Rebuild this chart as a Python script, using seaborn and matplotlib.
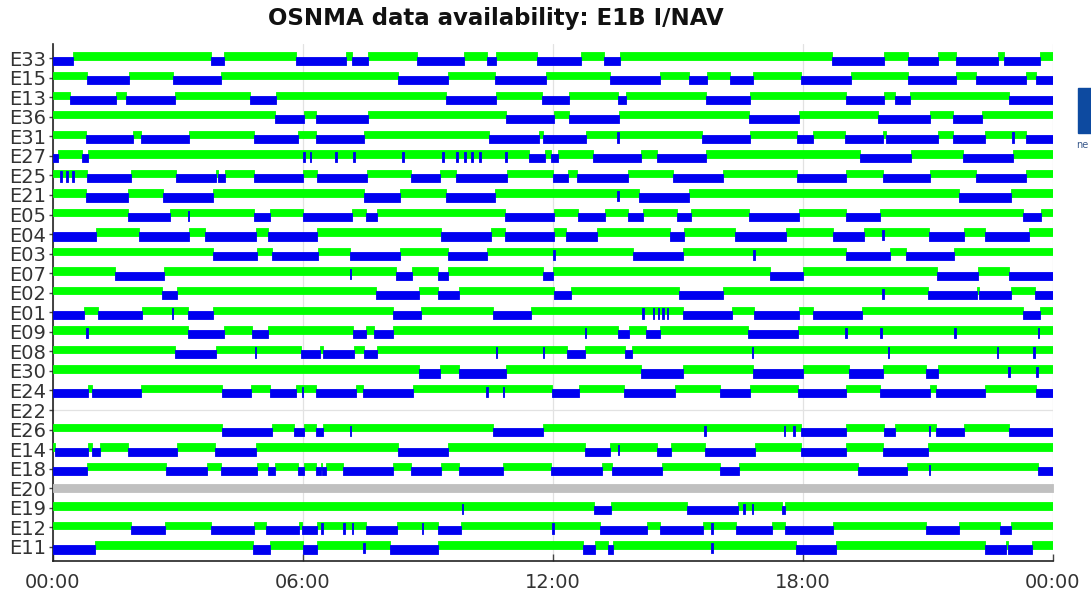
import numpy as np
import pandas as pd
import matplotlib
matplotlib.use('Agg')
import matplotlib.pyplot as plt
import seaborn as sns
from matplotlib.patches import Rectangle

# ── Данные: интервалы "blue" (часы), остальное время строки — "green" ─────────
SATS = ['E33', 'E15', 'E13', 'E36', 'E31', 'E27', 'E25', 'E21', 'E05', 'E04',
        'E03', 'E07', 'E02', 'E01', 'E09', 'E08', 'E30', 'E24', 'E22', 'E26',
        'E14', 'E18', 'E20', 'E19', 'E12', 'E11']
NO_DATA = ['E22']
UNAVAILABLE = ['E20']

E33_BLUE = [(0, 0.47), (3.79, 4.10), (5.82, 7.03), (7.17, 7.55), (8.74, 9.86), (10.42, 10.64),
            (11.61, 12.66), (13.23, 13.62), (18.70, 19.94), (20.51, 21.24), (21.68, 22.67), (22.83, 23.68)]
E15_BLUE = [(0.82, 1.83), (2.89, 4.04), (8.28, 9.47), (10.61, 11.82), (13.37, 14.57), (15.26, 15.70),
            (16.24, 16.79), (17.95, 19.16), (20.51, 21.68), (22.14, 23.34), (23.59, 24)]
E13_BLUE = [(0.40, 1.52), (1.75, 2.92), (4.72, 5.36), (9.44, 10.64), (11.74, 12.39), (13.57, 13.76),
            (15.67, 16.74), (19.04, 19.95), (20.20, 20.57), (22.95, 24)]
E36_BLUE = [(5.33, 6.02), (6.30, 7.55), (10.87, 12.03), (12.39, 13.59), (16.71, 17.90), (19.81, 21.06),
            (21.60, 22.30)]
E31_BLUE = [(0.78, 1.91), (2.10, 3.26), (4.83, 5.87), (6.30, 7.47), (10.47, 11.66), (11.75, 12.80),
            (15.57, 16.74), (17.86, 18.25), (19.01, 19.91), (20.00, 21.24), (21.60, 22.38), (23.34, 24)]
E31_SPIKES = [13.56, 23.04]
E27_BLUE = [(0, 0.12), (0.70, 0.85), (11.43, 11.80), (11.96, 12.13), (12.97, 14.10), (14.49, 15.68),
            (19.38, 20.59), (21.83, 23.04)]
E27_SPIKES = [6.02, 6.18, 6.79, 7.22, 8.40, 9.36, 9.70, 9.89, 10.06, 10.25, 10.87]
E25_BLUE = [(0.82, 1.86), (2.95, 3.91), (3.97, 4.12), (4.83, 6.00), (6.34, 7.53), (8.59, 9.29),
            (9.67, 10.89), (12.00, 12.36), (12.58, 13.79), (14.88, 16.07), (17.86, 19.04), (19.92, 21.06),
            (22.14, 23.34)]
E25_SPIKES = [0.19, 0.34, 0.48]
E21_BLUE = [(0.78, 1.80), (2.64, 3.85), (7.47, 8.32), (9.44, 10.61), (14.07, 15.26), (21.75, 23.00)]
E21_SPIKES = [13.56]
E05_BLUE = [(1.80, 2.80), (4.83, 5.20), (5.99, 7.17), (7.50, 7.78), (10.84, 12.02), (12.59, 13.25),
            (13.79, 14.15), (14.98, 15.30), (16.71, 17.90), (19.04, 19.84), (23.29, 23.70)]
E05_SPIKES = [3.25]
E04_BLUE = [(0, 1.02), (2.07, 3.26), (3.65, 4.86), (5.17, 6.34), (9.32, 10.50), (10.84, 12.03),
            (12.31, 13.06), (14.80, 15.14), (16.38, 17.59), (18.73, 19.46), (21.02, 21.86), (22.36, 23.42)]
E04_SPIKES = [19.92]
E03_BLUE = [(3.85, 4.89), (5.25, 6.37), (7.14, 8.32), (9.47, 10.42), (13.91, 15.11), (19.04, 20.08),
            (20.47, 21.63)]
E03_SPIKES = [12.03, 16.83]
E07_BLUE = [(1.49, 2.66), (8.23, 8.62), (9.24, 9.49), (11.77, 12.00), (17.20, 18.01), (21.21, 22.20),
            (22.95, 24)]
E07_SPIKES = [7.14]
E02_BLUE = [(2.61, 2.97), (7.76, 8.79), (9.25, 9.75), (12.03, 12.42), (15.03, 16.07), (21.01, 22.17),
            (22.23, 22.98), (23.57, 24)]
E02_SPIKES = [19.92]
E01_BLUE = [(0, 0.75), (1.09, 2.14), (3.23, 3.85), (8.15, 8.82), (10.57, 11.46), (15.11, 16.30),
            (16.82, 17.90), (18.25, 19.41), (23.29, 23.68)]
E01_SPIKES = [2.87, 14.16, 14.41, 14.53, 14.64, 14.75]
E09_BLUE = [(3.23, 4.11), (4.78, 5.17), (7.19, 7.50), (7.70, 8.17), (13.57, 13.82), (14.22, 14.57),
            (16.69, 17.87)]
E09_SPIKES = [0.82, 12.78, 19.04, 19.88, 21.65, 23.65]
E08_BLUE = [(2.92, 3.90), (5.95, 6.41), (6.49, 7.22), (7.47, 7.78), (12.34, 12.78), (13.73, 13.90)]
E08_SPIKES = [4.86, 10.64, 11.77, 16.79, 20.05, 22.67, 23.54]
E30_BLUE = [(8.79, 9.29), (9.75, 10.87), (14.10, 15.11), (16.79, 18.01), (19.10, 19.92), (20.96, 21.24)]
E30_SPIKES = [22.95, 23.62]
E24_BLUE = [(0, 0.85), (0.93, 2.11), (4.05, 4.75), (5.20, 5.84), (6.30, 7.27), (7.45, 8.63),
            (11.97, 12.62), (13.71, 14.92), (16.01, 16.74), (17.87, 19.04), (19.84, 21.06), (21.20, 22.36),
            (23.60, 24)]
E24_SPIKES = [5.99, 10.42, 10.81]
E26_BLUE = [(4.05, 5.25), (5.79, 6.02), (6.30, 6.49), (10.57, 11.77), (17.95, 19.04), (19.95, 20.20),
            (21.20, 21.86), (22.95, 24)]
E26_SPIKES = [7.14, 15.65, 17.56, 17.78, 21.04]
E14_BLUE = [(0.05, 0.85), (0.93, 1.13), (1.79, 2.97), (3.88, 4.86), (8.28, 9.47), (12.78, 13.37),
            (14.49, 14.83), (15.65, 16.86), (17.95, 19.04), (19.92, 21.01)]
E14_SPIKES = [13.57]
E18_BLUE = [(0, 0.82), (2.72, 3.70), (4.04, 4.89), (5.17, 5.33), (5.87, 6.02), (6.30, 6.42), (6.45, 6.54),
            (6.96, 8.15), (8.59, 9.32), (9.75, 10.79), (11.96, 13.17), (13.42, 14.61), (16.01, 16.46),
            (19.33, 20.50), (23.65, 24)]
E18_SPIKES = [21.04]
E19_BLUE = [(12.98, 13.40), (15.22, 16.43), (17.50, 17.58)]
E19_SPIKES = [9.83, 16.58, 16.79]
E12_BLUE = [(1.88, 2.69), (3.80, 4.83), (5.12, 5.90), (5.98, 6.34), (7.50, 8.25), (9.24, 9.80),
            (13.12, 14.25), (14.57, 15.61), (16.40, 17.25), (17.56, 18.73), (20.96, 21.75), (22.72, 22.98)]
E12_SPIKES = [6.46, 6.99, 7.19, 8.87, 12.00, 15.81]
E11_BLUE = [(0, 1.01), (4.81, 5.20), (5.99, 6.34), (8.09, 9.25), (12.73, 13.01), (13.33, 13.45),
            (17.83, 18.79), (22.36, 22.88), (22.93, 23.49)]
E11_SPIKES = [7.47, 15.81]

XTICKS = [0, 6, 12, 18, 24]
XLABELS = ['00:00', '06:00', '12:00', '18:00', '00:00']
TITLE = 'OSNMA data availability: E1B I/NAV'

BLUE = {
    'E33': E33_BLUE, 'E15': E15_BLUE, 'E13': E13_BLUE, 'E36': E36_BLUE, 'E31': E31_BLUE,
    'E27': E27_BLUE, 'E25': E25_BLUE, 'E21': E21_BLUE, 'E05': E05_BLUE, 'E04': E04_BLUE,
    'E03': E03_BLUE, 'E07': E07_BLUE, 'E02': E02_BLUE, 'E01': E01_BLUE, 'E09': E09_BLUE,
    'E08': E08_BLUE, 'E30': E30_BLUE, 'E24': E24_BLUE, 'E26': E26_BLUE, 'E14': E14_BLUE,
    'E18': E18_BLUE, 'E19': E19_BLUE, 'E12': E12_BLUE, 'E11': E11_BLUE,
}
SPIKES = {
    'E31': E31_SPIKES, 'E27': E27_SPIKES, 'E25': E25_SPIKES, 'E21': E21_SPIKES, 'E05': E05_SPIKES,
    'E04': E04_SPIKES, 'E03': E03_SPIKES, 'E07': E07_SPIKES, 'E02': E02_SPIKES, 'E01': E01_SPIKES,
    'E09': E09_SPIKES, 'E08': E08_SPIKES, 'E30': E30_SPIKES, 'E24': E24_SPIKES, 'E26': E26_SPIKES,
    'E14': E14_SPIKES, 'E18': E18_SPIKES, 'E19': E19_SPIKES, 'E12': E12_SPIKES, 'E11': E11_SPIKES,
}

# ── Стиль ─────────────────────────────────────────────────────────────────────
C_GREEN = '#00ff00'
C_BLUE  = '#0000f0'
C_GRAY  = '#c0c0c0'

sns.set_theme(style='whitegrid')
plt.rcParams['font.family'] = ['DejaVu Sans']


def complement(intervals, t0=0.0, t1=24.0):
    out, cur = [], t0
    for a, b in sorted(intervals):
        if a > cur:
            out.append((cur, a))
        cur = max(cur, b)
    if cur < t1:
        out.append((cur, t1))
    return out


def bars(ax, spans, y, h, color, z):
    ax.broken_barh(spans, (y, h), facecolors=color, edgecolors=color,
                   linewidth=0.6, zorder=z)


W, H = 1091, 596
fig = plt.figure(figsize=(W / 100, H / 100), dpi=100)
ax = fig.add_axes([53 / W, 1 - 561 / H, 1000 / W, 517 / H])

for i, sat in enumerate(SATS):
    if sat in NO_DATA:
        continue
    if sat in UNAVAILABLE:
        bars(ax, [(0, 24)], i - 0.2, 0.4, C_GRAY, 3)
        continue
    blue = BLUE.get(sat, [])
    green = complement(blue)
    bars(ax, [(a, b - a) for a, b in green], i - 0.29, 0.38, C_GREEN, 3)
    bars(ax, [(a, b - a) for a, b in blue], i - 0.08, 0.42, C_BLUE, 4)
    sp = SPIKES.get(sat, [])
    if sp:
        bars(ax, [(s - 0.02, 0.04) for s in sp], i - 0.2, 0.52, C_BLUE, 4)

ax.set_xlim(0, 24)
ax.set_ylim(len(SATS) - 0.28, -0.72)
ax.set_xticks(XTICKS)
ax.set_xticklabels(XLABELS)
ax.set_yticks(range(len(SATS)))
ax.set_yticklabels(SATS)

ax.grid(True, color='#e2e2e2', lw=0.9, zorder=0)
ax.set_axisbelow(True)
for side in ['top', 'right']:
    ax.spines[side].set_visible(False)
for side in ['left', 'bottom']:
    ax.spines[side].set_visible(True)
    ax.spines[side].set_color('#222222')
    ax.spines[side].set_linewidth(1.2)

ax.tick_params(axis='x', direction='in', length=5, width=1, color='#444444',
               labelsize=14, labelcolor='#333333', pad=9, bottom=True)
ax.tick_params(axis='y', direction='out', length=3, width=1, color='#444444',
               labelsize=14, labelcolor='#333333', pad=2, left=True)

fig.text(496 / W, 1 - 18 / H, TITLE, ha='center', va='center',
         fontsize=16.5, fontweight='bold', color='#111111')

# обрезанная легенда справа
fig.patches.append(Rectangle((1078 / W, 1 - 133 / H), 20 / W, 45 / H,
                             transform=fig.transFigure, color='#0d4aa0'))
fig.text(1076 / W, 1 - 145 / H, 'ne', fontsize=7, color='#3a5a8c', va='center')

fig.savefig('out.png', dpi=100)
